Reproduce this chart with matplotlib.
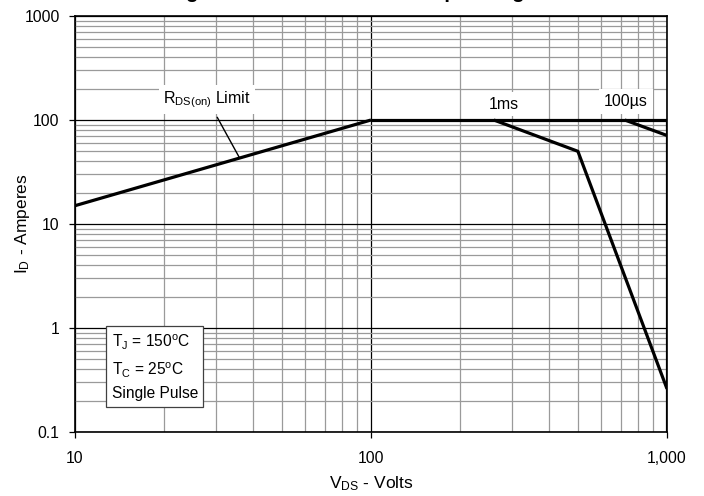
import matplotlib.pyplot as plt
from matplotlib.ticker import LogLocator, FixedLocator, NullFormatter

plt.rcParams['font.family'] = ['Liberation Sans', 'DejaVu Sans']
plt.rcParams['mathtext.fontset'] = 'custom'
plt.rcParams['mathtext.rm'] = 'Liberation Sans'
plt.rcParams['mathtext.it'] = 'Liberation Sans'

# data
rds_v = [10, 100]
rds_i = [15, 100]
dc_v = [100, 1000, 1000]
dc_i = [100, 100, 0.1]
ms1_v = [260, 500, 1000]
ms1_i = [100, 50, 0.26]
us100_v = [720, 1000]
us100_i = [100, 71]

x_ticks = [10, 100, 1000]
x_labels = ["10", "100", "1,000"]
y_ticks = [0.1, 1, 10, 100, 1000]
y_labels = ["0.1", "1", "10", "100", "1000"]

fig = plt.figure(figsize=(7.04, 4.96), dpi=100)
ax = fig.add_axes([75/704, 64/496, 592/704, 416/496])

ax.set_xscale('log')
ax.set_yscale('log')
ax.set_xlim(10, 1000)
ax.set_ylim(0.1, 1000)

ax.xaxis.set_major_locator(FixedLocator(x_ticks))
ax.set_xticklabels(x_labels)
ax.yaxis.set_major_locator(FixedLocator(y_ticks))
ax.set_yticklabels(y_labels)
ax.xaxis.set_minor_locator(LogLocator(base=10, subs=range(2, 10)))
ax.yaxis.set_minor_locator(LogLocator(base=10, subs=range(2, 10)))
ax.xaxis.set_minor_formatter(NullFormatter())
ax.yaxis.set_minor_formatter(NullFormatter())

ax.grid(which='major', color='black', lw=0.9)
ax.grid(which='minor', color='#9a9a9a', lw=0.9)
ax.set_axisbelow(True)
ax.tick_params(which='major', direction='out', length=4, width=0.9, labelsize=11.3, pad=7)
ax.tick_params(axis='x', which='major', pad=10)
ax.tick_params(which='minor', length=0)
for s in ax.spines.values():
    s.set_linewidth(1.2)

lw = 2.3
ax.plot(rds_v, rds_i, color='black', lw=lw, solid_capstyle='butt')
ax.plot(dc_v, dc_i, color='black', lw=lw, solid_capstyle='butt')
ax.plot(ms1_v, ms1_i, color='black', lw=lw, solid_capstyle='butt')
ax.plot(us100_v, us100_i, color='black', lw=lw, solid_capstyle='butt')

ax.annotate(r"R$_\mathrm{DS(on)}$ Limit", xy=(36, 43), xytext=(28, 158),
            ha='center', va='center', fontsize=11.5,
            bbox=dict(boxstyle='square,pad=0.25', fc='white', ec='none'),
            arrowprops=dict(arrowstyle='-', color='black', lw=1, shrinkA=3, shrinkB=0))
ax.text(280, 142, "1ms", ha='center', va='center', fontsize=11.5,
        bbox=dict(boxstyle='square,pad=0.3', fc='white', ec='none'))
ax.text(727, 150, "100µs", ha='center', va='center', fontsize=11.5,
        bbox=dict(boxstyle='square,pad=0.3', fc='white', ec='none'))

ax.text(13.3, 0.198,
        "T$_\\mathrm{J}$ = 150$^\\mathrm{o}$C\nT$_\\mathrm{C}$ = 25$^\\mathrm{o}$C\nSingle Pulse",
        ha='left', va='bottom', fontsize=11.2, linespacing=1.55,
        bbox=dict(boxstyle='square,pad=0.35', fc='white', ec='#404040', lw=0.9))

ax.set_xlabel(r"V$_\mathrm{DS}$ - Volts", fontsize=12.5)
ax.set_ylabel(r"I$_\mathrm{D}$ - Amperes", fontsize=12.5)
ax.xaxis.set_label_coords(0.5, -0.102)
ax.yaxis.set_label_coords(-0.073, 0.5)

# title sits mostly above the canvas, as in the source image
fig.text(371/704, 1 + 2/496, "Fig. 12. Forward-Bias Safe Operating Area",
         ha='center', va='baseline', fontsize=14.7, fontweight='bold')

plt.savefig("out.png", dpi=100)
